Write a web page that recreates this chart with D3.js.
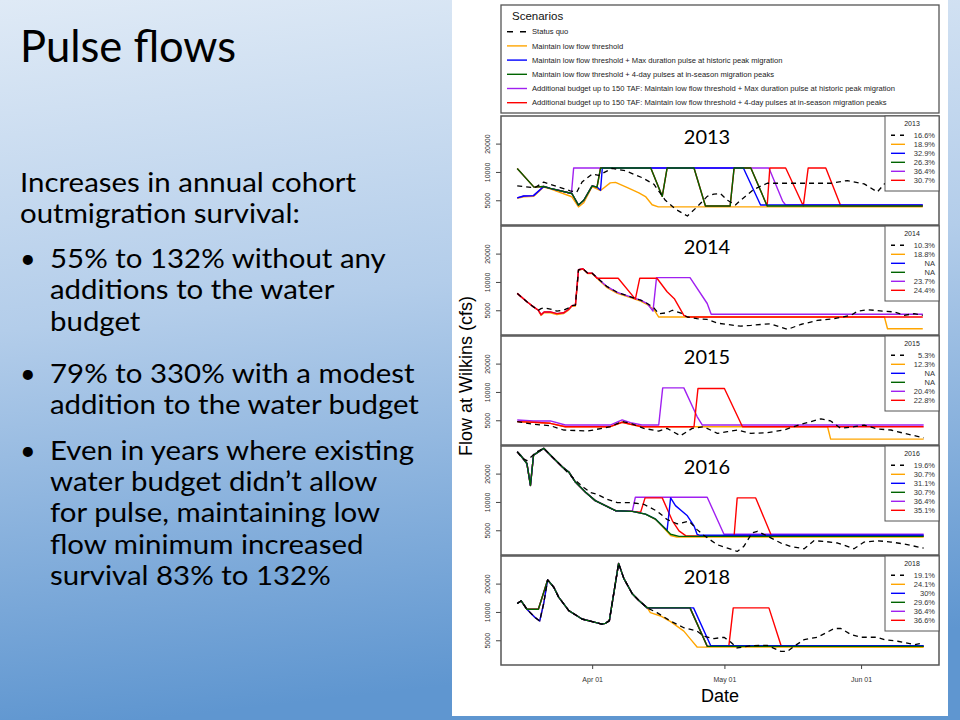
<!DOCTYPE html>
<html><head><meta charset="utf-8">
<script src="https://cdn.jsdelivr.net/npm/d3@7"></script>
<style>html,body{margin:0;padding:0;} svg{display:block}</style>
</head><body>
<svg id="c" width="960" height="720"></svg>
<script>
// ---------------- DATA ----------------
const years = ["2013", "2014", "2015", "2016", "2018"];
const scenarioNames = [
  "Status quo",
  "Maintain low flow threshold",
  "Maintain low flow threshold + Max duration pulse at historic peak migration",
  "Maintain low flow threshold + 4-day pulses at in-season migration peaks",
  "Additional budget up to 150 TAF: Maintain low flow threshold + Max duration pulse at historic peak migration",
  "Additional budget up to 150 TAF: Maintain low flow threshold + 4-day pulses at in-season migration peaks"
];
const scenarioColors = ["#000000", "#FFA500", "#0000FF", "#006400", "#A020F0", "#FF0000"];
const yTickValues = [5000, 10000, 20000];
const xTickDays = [17, 47, 78];          // days after Mar 15
const xTickLabels = ["Apr 01", "May 01", "Jun 01"];

const pct2013 = ["16.6%", "18.9%", "32.9%", "26.3%", "36.4%", "30.7%"];
const pct2014 = ["10.3%", "18.8%", "NA", "NA", "23.7%", "24.4%"];
const pct2015 = ["5.3%", "12.3%", "NA", "NA", "20.4%", "22.8%"];
const pct2016 = ["19.6%", "30.7%", "31.1%", "30.7%", "36.4%", "35.1%"];
const pct2018 = ["19.1%", "24.1%", "30%", "29.6%", "36.4%", "36.6%"];

// series: [days after Mar 15, flow cfs]
const sq2013 = [[0,7100],[4,6800],[6,7800],[12,6300],[13.5,6100],[14.7,7800],[17,9500],[18.5,9200],[21.5,10900],[24.5,10300],[28.3,8700],[31,7400],[33.6,5000],[36,4000],[38.6,3400],[40.8,4250],[43.1,5500],[44.6,5800],[46.1,5900],[47.7,5000],[49.5,4460],[50.7,5000],[53.7,6540],[56.7,7580],[61.3,7580],[65.1,7580],[71.1,7580],[74.9,8100],[78.7,7460],[81.7,6130],[83.3,7460],[86,8500],[92,8700]];
const low2013 = [[0,5250],[1.5,5450],[3.7,5500],[6,6900],[7.5,6600],[12.4,5450],[13.9,4250],[15.1,4700],[17,7000],[18.9,6350],[21.1,7650],[22.3,7750],[25,6800],[27.6,6000],[29.1,5480],[30.6,4480],[32,4250],[92,4250]];
const maxd2013 = [[0,5300],[1.5,5550],[3.7,5600],[6,7000],[7.5,6700],[12.4,5900],[13.9,4450],[15.1,5000],[17,7100],[18.1,6900],[18.9,6400],[19.3,11000],[51.3,11000],[55.2,4450],[92,4450]];
const pulse2013 = [[0,10900],[3.8,6900],[6,7000],[7.5,6700],[12.4,5900],[13.9,4450],[15.1,5000],[17,7100],[18.1,6900],[18.9,11000],[30.3,11000],[32.9,5500],[34,11000],[40.1,11000],[42.7,4350],[48.3,4350],[49.2,11000],[53,11000],[56.7,4350],[92,4350]];
const budMax2013 = [[0,5300],[1.5,5550],[3.7,5600],[6,7000],[7.5,6700],[12.3,5900],[12.8,11000],[57.1,11000],[60.2,4900],[60.9,4450],[92,4450]];
const budPulse2013 = [[0,10900],[3.8,6900],[6,7000],[7.5,6700],[12.4,5900],[13.9,4450],[15.1,5000],[17,7100],[18.1,6900],[18.9,11000],[30.3,11000],[32.9,5500],[34,11000],[40.1,11000],[42.7,4350],[48.3,4350],[49.2,11000],[53,11000],[56.7,4350],[57.3,11000],[60.9,11000],[64.9,4350],[66,11000],[70,11000],[73.4,4350],[92,4350]];

const sq2014 = [[0,7560],[2.2,6150],[3.7,5430],[4.8,5000],[5.4,5200],[6.1,5300],[7.5,5150],[9,4900],[10.5,5000],[11.7,5300],[12.4,5600],[13.2,5660],[13.9,13460],[14.9,13790],[16,12390],[17,12390],[18.5,10700],[20.4,8910],[22.7,7750],[25.7,6950],[28,6400],[29.5,5900],[31,5300],[32.1,4600],[34,4700],[35.2,5000],[37,4700],[38.6,4240],[40.8,4070],[43.1,4000],[45.4,3650],[47.7,3530],[50.7,3390],[53,3450],[55.2,3530],[57.5,3590],[61.3,3130],[64.3,3530],[68.1,3900],[71.9,4070],[75.7,4420],[77.2,4880],[79.5,5070],[83.3,4880],[85.5,4800],[87.8,4420],[90,4600],[92,4420]];
const low2014 = [[0,7560],[2.2,6150],[3.7,5430],[4.8,5000],[5.4,4400],[6.1,4700],[7.5,4700],[9,4500],[10.5,4600],[11.7,5050],[12.4,5500],[13.2,5550],[13.9,13300],[14.9,13700],[16,12300],[17,12300],[18.5,10500],[20.4,8700],[22.7,7550],[25.7,6800],[28,6250],[29.5,5750],[31,5100],[32.1,4240],[83.3,4240],[84,3180],[92,3180]];
const maxd2014 = null;
const pulse2014 = null;
const budMax2014 = [[0,7560],[2.2,6150],[3.7,5430],[4.8,5000],[5.4,4490],[6.1,4800],[7.5,4800],[9,4600],[10.5,4700],[11.7,5130],[12.4,5600],[13.2,5660],[13.9,13460],[14.9,13790],[16,12390],[17,12390],[18.5,10700],[20.4,8910],[22.7,7750],[25.7,6950],[28,6400],[29.5,5900],[30.8,4900],[31.6,11100],[39.2,11100],[43.1,5900],[44,4530],[92,4530]];
const budPulse2014 = [[0,7560],[2.2,6150],[3.7,5430],[4.8,5000],[5.4,4490],[6.1,4800],[7.5,4800],[9,4600],[10.5,4700],[11.7,5130],[12.4,5600],[13.2,5660],[13.9,13460],[14.9,13790],[16,12390],[17,12390],[18.1,10950],[22.9,10950],[26.8,6570],[27.8,10950],[31.7,10950],[34,7870],[35.7,6570],[37.8,4420],[38.6,4240],[92,4240]];

const sq2015 = [[0,4840],[3.7,4530],[7.5,4380],[10.5,3940],[16,3840],[21.1,4270],[23.8,4840],[25.7,4640],[28.7,4100],[32.1,3840],[34,4100],[37,3420],[39.7,4100],[42.3,4270],[45.4,3630],[47.7,3780],[49.9,3940],[53,3630],[56.7,3690],[60.5,3940],[64.3,4530],[68.9,5170],[71.1,4920],[73.4,4100],[76.4,4270],[78.7,4450],[81.7,4040],[84.8,3940],[87.8,3630],[92.2,3260]];
const low2015 = [[0,4840],[3.7,4760],[7.5,4640],[10.9,4270],[21.1,4270],[23.8,4760],[25.7,4530],[28.3,4270],[70.4,4270],[71.1,3150],[92.2,3150]];
const maxd2015 = null;
const pulse2015 = null;
const budMax2015 = [[0,5040],[3.7,4920],[7.5,4920],[10.9,4450],[21.1,4450],[23.8,5040],[25.7,4720],[28.3,4450],[32.1,4450],[33,11040],[37.8,11040],[40.8,5480],[42,4450],[92.2,4450]];
const budPulse2015 = [[0,4840],[3.7,4760],[7.5,4640],[10.9,4270],[21.1,4270],[23.8,4760],[25.7,4530],[28.3,4270],[40.1,4270],[41,10860],[47,10860],[51.1,4270],[92.2,4270]];

const sq2016 = [[0,34000],[1.2,29000],[2.2,27500],[3.3,30500],[4.1,33400],[6,37100],[7.9,30200],[10.2,23600],[11.7,20000],[13.2,17000],[15.1,14250],[16.6,12600],[18.1,12090],[20.4,10680],[22.7,9840],[25.7,9840],[28.7,9440],[31.7,8000],[34,6510],[36.3,5850],[39,6240],[40.8,5080],[42.3,4420],[45.4,3510],[47.7,3230],[49.9,2980],[51.4,3370],[53.3,4680],[54.5,4880],[56.4,4420],[59.8,3660],[62,3370],[65.1,3180],[67.3,3870],[69.6,3810],[72.7,3660],[76.4,3180],[78.7,3750],[81.7,3870],[84.8,3750],[87.8,3570],[92.2,3230]];
const low2016 = [[0,34200],[0.7,31500],[2.2,25600],[3,14980],[3.7,31500],[6,37100],[7.9,30200],[10.2,23600],[11.7,20800],[13.2,16270],[15.5,12700],[17.7,10330],[20,9130],[22.3,8070],[26.1,7940],[29.1,7430],[31.4,6500],[32.9,5500],[34.8,4400],[36.2,4240],[92.2,4240]];
const maxd2016 = [[0,34200],[0.7,31500],[2.2,25600],[3,14980],[3.7,31500],[6,37100],[7.9,30200],[10.2,23600],[11.7,20800],[13.2,16270],[15.5,12700],[17.7,10330],[20,9130],[22.3,8070],[26.1,7940],[29.1,7430],[31.4,6560],[32.9,5570],[34,5000],[34.8,11040],[35.9,9130],[38.6,7130],[40.1,5570],[40.8,4530],[41.5,4420],[92.2,4420]];
const pulse2016 = [[0,34200],[0.7,31500],[2.2,25600],[3,14980],[3.7,31500],[6,37100],[7.9,30200],[10.2,23600],[11.7,20800],[13.2,16270],[15.5,12700],[17.7,10330],[20,9130],[22.3,8070],[26.1,7940],[29.1,7430],[31.4,6560],[32.9,5570],[34.8,4530],[36.7,4310],[92.2,4310]];
const budMax2016 = [[0,34200],[0.7,31500],[2.2,25600],[3,14980],[3.7,31500],[6,37100],[7.9,30200],[10.2,23600],[11.7,20800],[13.2,16270],[15.5,12700],[17.7,10330],[20,9130],[22.3,8070],[26.1,7940],[26.8,11220],[43.1,11220],[46.9,4530],[92.2,4530]];
const budPulse2016 = [[0,34200],[0.7,31500],[2.2,25600],[3,14980],[3.7,31500],[6,37100],[7.9,30200],[10.2,23600],[11.7,20800],[13.2,16270],[15.5,12700],[17.7,10330],[20,9130],[22.3,8070],[26.1,7940],[28,7800],[29,11040],[32.9,11040],[35.2,6300],[36.7,4920],[38.2,4380],[49.2,4340],[49.9,11040],[54.1,11040],[57.7,4340],[92.2,4340]];

const sq2018 = [[0,12290],[0.9,13130],[2.2,10680],[4.1,8690],[5.1,8000],[6,12290],[6.9,21900],[8.3,18270],[9.4,14380],[11.7,10330],[14.7,8410],[17.7,7740],[19.2,7430],[20,7550],[20.9,8070],[23,32800],[24.2,22600],[26.1,15600],[27.6,13240],[29.5,11040],[31.7,9840],[34.8,8000],[37.8,6790],[40.8,6250],[42.3,5520],[44.6,5210],[46.9,5380],[48.4,4800],[49.9,4140],[53,4380],[56.7,4420],[59.8,3810],[61.3,3810],[62.8,4310],[65.1,5080],[68.1,5380],[71.9,6670],[73.4,6670],[75.7,5750],[78,5380],[81.7,5380],[83.3,5080],[86.3,4880],[90.1,4490],[92.2,4680]];
const low2018 = [[0,12290],[0.9,13130],[2.2,10680],[4.1,8690],[5.1,8000],[6,12290],[6.9,21900],[8.3,18270],[9.4,14380],[11.7,10330],[14.7,8410],[17.7,7740],[19.2,7430],[20,7550],[20.9,8070],[23,32800],[24.2,22600],[26.1,15600],[27.6,13240],[29.5,11040],[30.2,9840],[32.5,9060],[34.8,7880],[37.8,6250],[39.4,5080],[40.8,4240],[92.2,4200]];
const maxd2018 = [[0,12290],[0.9,13130],[2.2,10680],[4.1,8690],[5.1,8000],[6,12290],[6.9,21900],[8.3,18270],[9.4,14380],[11.7,10330],[14.7,8410],[17.7,7740],[19.2,7430],[20,7550],[20.9,8070],[23,32800],[24.2,22600],[26.1,15600],[27.6,13240],[29.5,11040],[40,11040],[43.9,4380],[92.2,4380]];
const pulse2018 = [[0,12290],[0.9,13130],[2.2,10680],[4.8,10680],[6.9,21900],[8.3,18270],[9.4,14380],[11.7,10330],[14.7,8410],[17.7,7740],[19.2,7430],[20,7550],[20.9,8070],[23,32800],[24.2,22600],[26.1,15600],[27.6,13240],[29.5,11040],[39.2,11040],[43.1,4310],[92.2,4310]];
const budMax2018 = [[0,12290],[0.9,13130],[2.2,10680],[4.8,10680],[6.9,21900],[8.3,18270],[9.4,14380],[11.7,10330],[14.7,8410],[17.7,7740],[19.2,7430],[20,7550],[20.9,8070],[23,32800],[24.2,22600],[26.1,15600],[27.6,13240],[29.5,11040],[39.2,11040],[43.1,4310],[92.2,4310]];
const budPulse2018 = [[0,12290],[0.9,13130],[2.2,10680],[4.8,10680],[6.9,21900],[8.3,18270],[9.4,14380],[11.7,10330],[14.7,8410],[17.7,7740],[19.2,7430],[20,7550],[20.9,8070],[23,32800],[24.2,22600],[26.1,15600],[27.6,13240],[29.5,11040],[39.2,11040],[43.1,4310],[48,4310],[49,11040],[57.1,11040],[59.9,4310],[92.2,4310]];

const slideTitle = "Pulse flows";
const bodyLines = [
  {t: "Increases in annual cohort", b: false},
  {t: "outmigration survival:", b: false},
  {t: "55% to 132% without any", b: true},
  {t: "additions to the water", b: false, ind: true},
  {t: "budget", b: false, ind: true},
  {t: "79% to 330% with a modest", b: true},
  {t: "addition to the water budget", b: false, ind: true},
  {t: "Even in years where existing", b: true},
  {t: "water budget didn\u2019t allow", b: false, ind: true},
  {t: "for pulse, maintaining low", b: false, ind: true},
  {t: "flow minimum increased", b: false, ind: true},
  {t: "survival 83% to 132%", b: false, ind: true}
];
const bodyBaselines = [192, 223, 268, 299, 331, 383, 414, 460, 491, 522, 554, 585];

// ---------------- DRAWING ----------------
const seriesByYear = {
  "2013": [sq2013, low2013, maxd2013, pulse2013, budMax2013, budPulse2013],
  "2014": [sq2014, low2014, maxd2014, pulse2014, budMax2014, budPulse2014],
  "2015": [sq2015, low2015, maxd2015, pulse2015, budMax2015, budPulse2015],
  "2016": [sq2016, low2016, maxd2016, pulse2016, budMax2016, budPulse2016],
  "2018": [sq2018, low2018, maxd2018, pulse2018, budMax2018, budPulse2018]
};
const pctByYear = {"2013": pct2013, "2014": pct2014, "2015": pct2015, "2016": pct2016, "2018": pct2018};

const svg = d3.select("#c");
const defs = svg.append("defs");
const grad = defs.append("linearGradient").attr("id", "bg")
  .attr("x1", 0).attr("y1", 0).attr("x2", 0.15).attr("y2", 1);
grad.append("stop").attr("offset", "0%").attr("stop-color", "#dfeaf6");
grad.append("stop").attr("offset", "45%").attr("stop-color", "#b3cdea");
grad.append("stop").attr("offset", "100%").attr("stop-color", "#5f96d0");
svg.append("rect").attr("width", 960).attr("height", 720).attr("fill", "url(#bg)");

// left text
const LFONT = "Lato, 'Open Sans', sans-serif";
svg.append("text").attr("x", 20).attr("y", 62)
  .attr("font-family", LFONT).attr("font-size", 43.5)
  .attr("fill", "#000").text(slideTitle);
const body = svg.append("g").attr("font-family", LFONT)
  .attr("font-size", 27).attr("fill", "#000");
bodyLines.forEach((ln, i) => {
  const yy = bodyBaselines[i];
  if (ln.b) body.append("text").attr("transform", `translate(20,${yy})`).text("\u2022");
  body.append("text").attr("transform", `translate(${(ln.b || ln.ind) ? 50 : 20},${yy}) scale(1.09,1)`).text(ln.t);
});

// white figure area
svg.append("rect").attr("x", 452).attr("y", 0).attr("width", 496).attr("height", 716).attr("fill", "#fff");

const FONT = "'Liberation Sans', Arial, sans-serif";
const plotL = 501, plotR = 939;
const base = Date.UTC(2013, 2, 15);
const toDate = d => new Date(base + d * 864e5);
const x = d3.scaleUtc().domain([toDate(-3.68), toDate(95.68)]).range([plotL, plotR]);

// main legend
const lg = svg.append("g");
lg.append("rect").attr("x", plotL).attr("y", 5).attr("width", plotR - plotL).attr("height", 108)
  .attr("fill", "#fff").attr("stroke", "#555").attr("stroke-width", 1.3);
lg.append("text").attr("x", 512).attr("y", 20).attr("font-family", FONT).attr("font-size", 11.5)
  .attr("fill", "#111").text("Scenarios");
scenarioNames.forEach((nm, i) => {
  const yy = 31.7 + i * 14.2;
  lg.append("line").attr("x1", 507).attr("x2", 527).attr("y1", yy).attr("y2", yy)
    .attr("stroke", scenarioColors[i]).attr("stroke-width", 1.4)
    .attr("stroke-dasharray", i === 0 ? "6,7" : null);
  lg.append("text").attr("x", 532).attr("y", yy + 2.6).attr("font-family", FONT)
    .attr("font-size", 7.6).attr("fill", "#222").text(nm);
});

// panels
const panelH = 109;
const drawOrder = [1, 4, 5, 2, 3, 0];
years.forEach((yr, pi) => {
  const top = 116 + pi * 110;
  const bot = top + panelH;
  const y = d3.scaleLog().domain([2730, 39300]).range([bot, top]);
  const g = svg.append("g");
  const cid = "clip" + yr;
  defs.append("clipPath").attr("id", cid).append("rect")
    .attr("x", plotL).attr("y", top).attr("width", plotR - plotL).attr("height", panelH);

  // year title
  g.append("text").attr("x", 707).attr("y", top + 28).attr("text-anchor", "middle")
    .attr("font-family", LFONT).attr("font-size", 20).attr("fill", "#000").text(yr);

  const line = d3.line().x(p => x(toDate(p[0]))).y(p => y(p[1]));
  const lines = g.append("g").attr("clip-path", `url(#${cid})`);
  drawOrder.forEach(si => {
    const s = seriesByYear[yr][si];
    if (!s) return;
    lines.append("path").attr("d", line(s)).attr("fill", "none")
      .attr("stroke", scenarioColors[si]).attr("stroke-width", si === 0 ? 1.3 : 1.4)
      .attr("stroke-linejoin", "round")
      .attr("stroke-dasharray", si === 0 ? "5,4" : null);
  });

  // y axis
  const ax = g.append("g").attr("transform", `translate(${plotL},0)`)
    .call(d3.axisLeft(y).tickValues(yTickValues).tickFormat(d3.format("d")).tickSize(5).tickSizeOuter(0));
  ax.select(".domain").remove();
  ax.selectAll(".tick line").attr("stroke", "#444");
  ax.selectAll(".tick text").attr("transform", "rotate(-90)").attr("x", 0).attr("y", -11).attr("dy", 0)
    .attr("text-anchor", "middle").attr("font-family", FONT).attr("font-size", 7).attr("fill", "#333");

  // box
  g.append("rect").attr("x", plotL).attr("y", top).attr("width", plotR - plotL).attr("height", panelH)
    .attr("fill", "none").attr("stroke", "#555").attr("stroke-width", 1.5);

  // inset legend
  const il = g.append("g");
  il.append("rect").attr("x", 885).attr("y", top).attr("width", plotR - 885).attr("height", 75)
    .attr("fill", "#fff").attr("stroke", "#555").attr("stroke-width", 1);
  il.append("text").attr("x", 912).attr("y", top + 9.5).attr("text-anchor", "middle")
    .attr("font-family", FONT).attr("font-size", 7).attr("fill", "#222").text(yr);
  pctByYear[yr].forEach((p, i) => {
    const yy = top + 19.3 + i * 9;
    il.append("line").attr("x1", 891).attr("x2", 905).attr("y1", yy).attr("y2", yy)
      .attr("stroke", scenarioColors[i]).attr("stroke-width", 1.4)
      .attr("stroke-dasharray", i === 0 ? "4,5" : null);
    il.append("text").attr("x", 935).attr("y", yy + 2.5).attr("text-anchor", "end")
      .attr("font-family", FONT).attr("font-size", 7.5).attr("fill", "#333").text(p);
  });

  if (pi === years.length - 1) {
    const xa = g.append("g").attr("transform", `translate(0,${bot})`)
      .call(d3.axisBottom(x).tickValues(xTickDays.map(toDate))
        .tickFormat((d, i) => xTickLabels[i]).tickSize(4).tickPadding(8));
    xa.select(".domain").remove();
    xa.selectAll(".tick line").attr("stroke", "#444");
    xa.selectAll(".tick text").attr("font-family", FONT).attr("font-size", 7).attr("fill", "#333");
  }
});

// axis titles
svg.append("text").attr("x", 720).attr("y", 702).attr("text-anchor", "middle")
  .attr("font-family", FONT).attr("font-size", 18).attr("fill", "#000").text("Date");
svg.append("text").attr("transform", "translate(472,376) rotate(-90)").attr("text-anchor", "middle")
  .attr("font-family", FONT).attr("font-size", 18).attr("fill", "#000").text("Flow at Wilkins (cfs)");
</script>
</body></html>
